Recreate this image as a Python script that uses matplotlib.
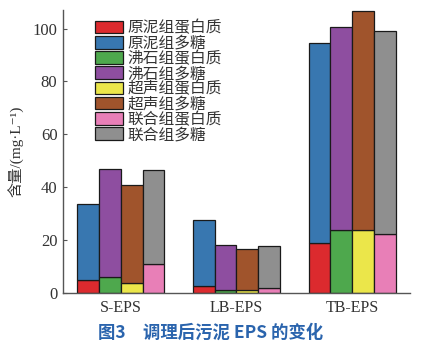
import matplotlib.pyplot as plt
import numpy as np

plt.rcParams['font.family'] = ['Liberation Serif', 'Noto Sans CJK SC', 'DejaVu Sans']

groups = ['S-EPS', 'LB-EPS', 'TB-EPS']
treatments = ['原泥组', '沸石组', '超声组', '联合组']
# protein and total EPS content (mg/L), per treatment, for S / LB / TB
protein = [[5.0, 2.6, 18.9],
           [6.0, 1.1, 23.8],
           [3.6, 1.0, 23.7],
           [11.0, 1.9, 22.3]]
total = [[33.6, 27.7, 94.7],
         [46.7, 18.0, 100.5],
         [40.8, 16.6, 106.5],
         [46.5, 17.9, 99.0]]
protein_colors = ['#dc2a2e', '#4ea84d', '#ebe64a', '#e87fb7']
sugar_colors = ['#3877b0', '#8e4ea0', '#a0542c', '#8f8f8f']

fig = plt.figure(figsize=(4.22, 3.5), dpi=100)
ax = fig.add_axes([63/422, 57/350, 347/422, 283/350])

x = np.arange(1, 4)
width = 0.188
handles = []
labels = []
for i in range(4):
    pos = x + (i - 1.5) * width
    p = np.array(protein[i])
    s = np.array(total[i]) - p
    b1 = ax.bar(pos, p, width, color=protein_colors[i], edgecolor='#1a1a1a', linewidth=0.9)
    b2 = ax.bar(pos, s, width, bottom=p, color=sugar_colors[i], edgecolor='#1a1a1a', linewidth=0.9)
    handles += [b1, b2]
    labels += [treatments[i] + '蛋白质', treatments[i] + '多糖']

ax.set_xlim(0.5, 3.5)
ax.set_ylim(0, 107)
ax.set_yticks([0, 20, 40, 60, 80, 100])
ax.set_xticks(x)
ax.set_xticklabels(groups)
ax.tick_params(axis='y', direction='in', length=3, width=0.8, color='#555555',
               labelsize=12, labelcolor='#333333', pad=4)
ax.tick_params(axis='x', length=0, labelsize=11.5, labelcolor='#333333', pad=5)
for side in ['top', 'right']:
    ax.spines[side].set_visible(False)
for side in ['left', 'bottom']:
    ax.spines[side].set_color('#555555')
    ax.spines[side].set_linewidth(1.0)

ax.set_ylabel('含量/(mg·L⁻¹)', fontsize=11, color='#333333', labelpad=6)

leg = ax.legend(handles, labels, loc='upper left', bbox_to_anchor=(0.075, 0.985),
                frameon=False, fontsize=11.3, labelspacing=-0.05, handlelength=1.75,
                handleheight=0.85, handletextpad=0.3, borderaxespad=0)
for t in leg.get_texts():
    t.set_color('#333333')

fig.text(0.5, 17/350, '图3　调理后污泥 EPS 的变化', ha='center', va='center',
         fontsize=12.5, fontweight='bold', color='#2a64ad', family=['Noto Sans CJK SC'])

fig.savefig('out.png', dpi=100)
